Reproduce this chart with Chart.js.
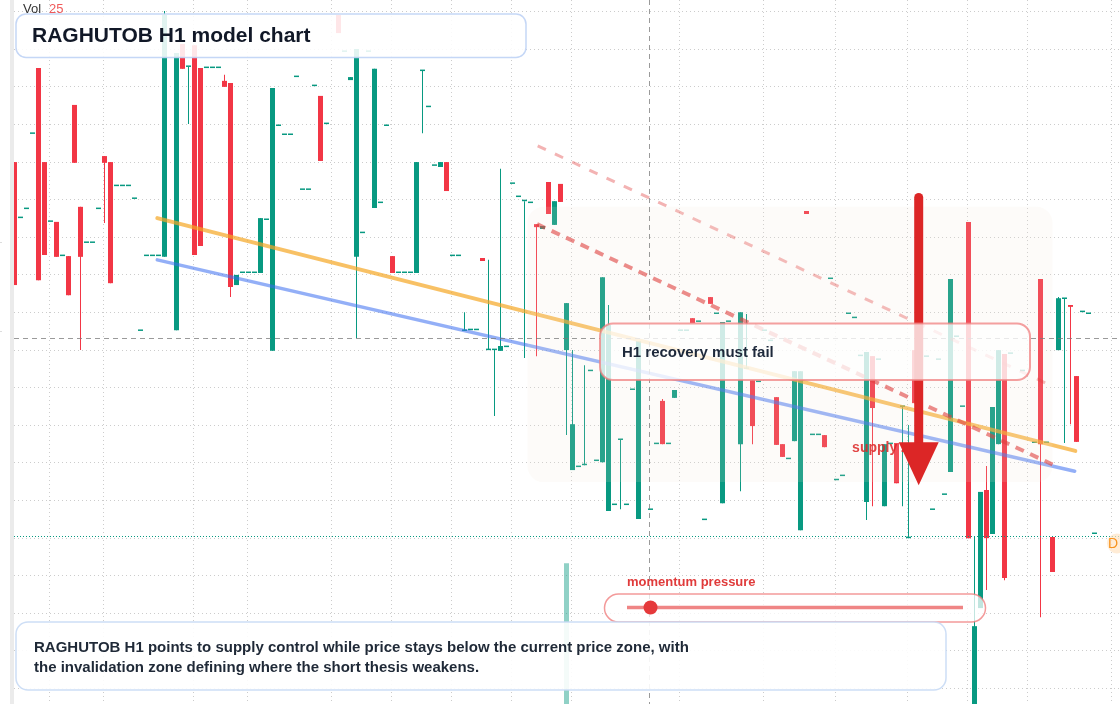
<!DOCTYPE html>
<html>
<head>
<meta charset="utf-8">
<title>RAGHUTOB H1 model chart</title>
<script src="https://cdn.jsdelivr.net/npm/chart.js@4.4.1/dist/chart.umd.min.js"></script>
<style>
  html, body { margin: 0; padding: 0; background: #ffffff; }
  #wrap { position: relative; width: 1120px; height: 704px; overflow: hidden; }
</style>
</head>
<body>
<div id="wrap"><canvas id="chart" width="1120" height="704"></canvas></div>
<script>
// H1 bar slots (one slot per hour, empty slots have no print)
const slots = [
  0, 1, 2, 3, 4, 5, 6, 7, 8, 9,
  10, 11, 12, 13, 14, 15, 16, 17, 18, 19,
  20, 21, 22, 23, 24, 25, 27, 28, 29, 30,
  31, 32, 33, 34, 35, 36, 37, 38, 39, 40,
  41, 42, 43, 44, 45, 46, 47, 48, 49, 50,
  51, 52, 54, 55, 56, 57, 58, 59, 60, 61,
  62, 63, 64, 65, 66, 67, 68, 69, 70, 71,
  72, 73, 74, 75, 76, 77, 78, 79, 80, 81,
  82, 83, 84, 85, 86, 87, 88, 89, 90, 91,
  92, 93, 94, 95, 96, 97, 98, 99, 100, 101,
  102, 103, 104, 106, 107, 108, 109, 110, 111, 112,
  113, 114, 115, 116, 117, 118, 119, 121, 122, 123,
  124, 125, 126, 127, 128, 129, 130, 131, 132, 133,
  134, 135, 136, 137, 138, 139, 140, 141, 142, 143,
  144, 145, 146, 147, 148, 149, 150, 152, 153, 154,
  155, 156, 157, 158, 159, 160, 161, 162, 163, 164,
  165, 166, 168, 170, 171, 172, 173, 174, 175, 176,
  177, 178, 179, 180
];
const opens = [
  56.00, 54.51, 54.75, 56.75, 58.50, 56.00, 54.41, 54.41, 53.50, 53.50,
  57.52, 54.81, 53.85, 53.85, 54.75, 56.16, 56.00, 55.36, 55.36, 55.36,
  55.02, 51.51, 53.50, 53.50, 53.50, 53.48, 51.53, 59.14, 58.53, 59.11,
  58.50, 58.50, 58.50, 58.50, 58.16, 58.10, 52.73, 53.05, 53.05, 53.05,
  53.05, 54.46, 50.98, 56.96, 56.72, 56.72, 58.26, 55.26, 55.26, 58.02,
  57.76, 57.01, 59.91, 58.93, 58.18, 53.48, 54.11, 58.93, 54.78, 54.91,
  56.96, 53.50, 53.05, 53.05, 53.05, 53.05, 58.42, 57.46, 55.90, 55.87,
  56.00, 53.50, 53.50, 51.51, 51.53, 51.53, 53.45, 51.00, 51.00, 50.98,
  51.08, 55.42, 55.07, 54.96, 54.91, 54.35, 54.22, 55.47, 54.33, 55.42,
  51.00, 47.81, 47.89, 47.94, 50.44, 48.05, 48.02, 46.72, 46.88, 48.61,
  46.88, 49.94, 46.51, 46.75, 48.50, 49.65, 48.50, 49.73, 51.51, 51.51,
  51.85, 51.75, 46.48, 52.41, 51.96, 46.93, 51.75, 48.50, 50.50, 50.20,
  50.15, 51.51, 51.24, 49.75, 48.50, 48.10, 48.58, 46.21, 54.70, 48.74,
  48.74, 48.74, 52.89, 47.54, 47.65, 51.96, 51.85, 50.84, 46.96, 50.84,
  50.74, 46.85, 48.50, 48.53, 49.49, 46.00, 51.00, 50.82, 46.75, 50.74,
  47.15, 47.76, 51.35, 49.49, 54.41, 41.16, 44.14, 47.28, 46.11, 48.50,
  50.90, 50.90, 50.44, 48.53, 52.89, 48.53, 46.03, 51.00, 52.36, 52.20,
  50.31, 52.01, 51.96, 46.11
];
const highs = [
  56.00, 54.51, 54.75, 56.75, 58.50, 56.00, 54.41, 54.41, 53.50, 53.50,
  57.52, 54.81, 53.85, 53.85, 54.75, 56.16, 56.00, 55.36, 55.36, 55.36,
  55.02, 51.51, 53.50, 53.50, 53.50, 60.02, 58.90, 59.14, 58.53, 59.11,
  58.50, 58.50, 58.50, 58.50, 58.32, 58.10, 53.00, 53.05, 53.05, 53.05,
  54.51, 54.46, 57.97, 56.96, 56.72, 56.72, 58.26, 55.26, 55.26, 58.02,
  57.76, 57.01, 59.91, 58.93, 58.26, 59.01, 54.11, 58.93, 58.48, 54.91,
  56.96, 53.50, 53.05, 53.05, 53.05, 56.00, 58.42, 57.46, 55.90, 56.00,
  56.00, 53.50, 53.50, 52.01, 51.53, 51.53, 53.45, 53.40, 51.00, 55.82,
  51.08, 55.42, 55.07, 54.96, 54.91, 54.35, 54.30, 55.47, 54.96, 55.42,
  52.25, 51.00, 47.89, 50.60, 50.44, 48.05, 52.94, 52.20, 46.88, 48.61,
  46.88, 49.94, 51.24, 46.75, 48.50, 49.70, 48.50, 49.94, 51.51, 51.51,
  51.85, 51.75, 46.48, 52.41, 51.96, 51.75, 51.75, 52.01, 51.96, 50.20,
  50.15, 51.51, 51.24, 49.75, 48.50, 48.10, 50.44, 50.44, 54.70, 48.74,
  48.74, 48.74, 52.89, 47.54, 47.65, 51.96, 51.85, 50.84, 50.95, 50.84,
  50.74, 48.50, 48.50, 48.53, 49.49, 49.01, 51.00, 50.82, 46.75, 50.74,
  47.15, 52.89, 51.35, 49.49, 54.41, 46.03, 47.23, 47.92, 49.49, 51.00,
  50.90, 50.90, 50.44, 48.53, 52.89, 48.53, 46.03, 52.41, 52.36, 52.20,
  50.31, 52.01, 51.96, 46.11
];
const lows = [
  52.73, 54.51, 54.75, 56.75, 52.86, 53.53, 54.41, 53.48, 53.50, 52.46,
  55.98, 51.00, 53.85, 53.85, 54.75, 54.38, 52.78, 55.36, 55.36, 55.36,
  55.02, 51.51, 53.50, 53.50, 53.50, 53.48, 51.53, 58.48, 57.01, 53.53,
  53.77, 58.50, 58.50, 58.50, 58.00, 52.41, 52.73, 53.05, 53.05, 53.05,
  53.05, 54.46, 50.98, 56.96, 56.72, 56.72, 58.26, 55.26, 55.26, 58.02,
  56.03, 57.01, 59.43, 58.93, 58.18, 51.32, 54.11, 58.93, 54.78, 54.91,
  56.96, 53.05, 53.05, 53.05, 53.05, 53.05, 56.77, 57.46, 55.90, 55.87,
  55.23, 53.50, 53.50, 51.51, 51.53, 51.53, 53.37, 51.00, 49.25, 50.98,
  51.08, 55.42, 55.07, 50.79, 54.91, 50.84, 54.22, 54.62, 54.33, 54.94,
  48.74, 47.81, 47.89, 47.94, 50.44, 48.05, 48.02, 46.72, 46.88, 46.77,
  46.88, 49.94, 46.51, 46.75, 48.50, 48.50, 48.50, 49.73, 51.51, 51.51,
  51.72, 51.75, 46.48, 52.23, 51.96, 46.93, 51.75, 47.25, 50.50, 48.50,
  50.15, 51.51, 51.24, 48.48, 48.16, 48.10, 48.58, 46.21, 54.62, 48.74,
  48.74, 48.42, 52.89, 47.54, 47.65, 51.96, 51.85, 50.84, 46.48, 46.85,
  50.74, 46.85, 48.50, 47.46, 46.85, 46.00, 49.59, 50.82, 46.75, 50.74,
  47.15, 47.76, 51.35, 49.49, 46.00, 41.16, 44.14, 44.62, 46.11, 48.50,
  44.88, 50.90, 50.44, 48.53, 43.90, 48.53, 45.10, 51.00, 48.53, 49.03,
  48.56, 52.01, 51.96, 46.11
];
const closes = [
  52.73, 54.51, 54.75, 56.75, 52.86, 53.53, 54.41, 53.48, 53.50, 52.46,
  55.98, 53.48, 53.85, 53.85, 54.75, 55.98, 52.78, 55.36, 55.36, 55.36,
  55.02, 51.51, 53.50, 53.50, 53.50, 59.91, 58.90, 58.48, 58.53, 53.53,
  53.77, 58.50, 58.50, 58.50, 58.00, 52.68, 53.00, 53.05, 53.05, 53.05,
  54.51, 54.46, 57.97, 56.96, 56.72, 56.72, 58.26, 55.26, 55.26, 58.02,
  56.03, 57.01, 59.43, 58.93, 58.26, 59.01, 54.11, 58.93, 58.48, 54.91,
  56.96, 53.05, 53.05, 53.05, 53.05, 56.00, 58.42, 57.46, 55.90, 56.00,
  55.23, 53.50, 53.50, 51.51, 51.53, 51.53, 53.37, 51.00, 51.00, 51.11,
  51.08, 55.42, 55.07, 54.96, 54.91, 54.27, 54.30, 54.62, 54.96, 54.94,
  52.25, 49.03, 47.89, 47.94, 50.44, 48.05, 52.94, 51.67, 46.88, 48.61,
  46.88, 49.94, 51.24, 46.75, 48.50, 48.50, 48.50, 49.94, 51.51, 51.51,
  51.72, 51.75, 46.48, 52.23, 51.96, 51.75, 51.75, 52.01, 50.50, 48.98,
  50.15, 51.51, 51.24, 48.48, 48.16, 48.10, 50.44, 50.44, 54.62, 48.74,
  48.74, 48.42, 52.89, 47.54, 47.65, 51.96, 51.85, 50.84, 50.95, 49.46,
  50.74, 48.50, 48.50, 47.46, 49.49, 46.00, 49.59, 50.82, 46.75, 50.74,
  47.15, 52.89, 51.35, 49.49, 46.00, 43.66, 47.23, 46.00, 49.49, 51.00,
  44.94, 50.90, 50.44, 48.53, 48.50, 48.53, 45.10, 52.38, 52.36, 52.15,
  48.56, 52.01, 51.96, 46.11
];

// volume pane (only one bar reaches into view)
const volSlots = [92];
const volumes = [20];

// drawn levels: [slot, price] pairs
const orangeTrend = [[23.8, 54.51], [176.8, 48.32]];
const blueTrend = [[23.8, 53.40], [176.7, 47.78]];
const sellChannel = [[87.1, 54.35], [173.0, 47.96]];
const upperChannel = [[87.2, 56.43], [173.0, 50.04]];

const zoneSlots = [85.5, 173.0];
const zonePrices = [47.49, 54.81];
const arrowSlot = 150.7;
const arrowPrices = [55.06, 47.41];
const crossSlot = 105.83;
const crossPrice = 51.32;
const lastPrice = 46.07;
const momentumLevel = 0.07;

// time grid positions
const gridSlots = [5.9, 14.9, 29.9, 38.9, 52.9, 62.9, 72.9, 82.9, 92.9, 110.9, 124.9, 136.9, 148.9, 158.9, 168.9, 182.9];

const UP = '#089981';
const DOWN = '#f23645';
const FONT = '"Liberation Sans", Arial, Helvetica, sans-serif';

const candleColors = slots.map((s, k) => closes[k] >= opens[k] ? UP : DOWN);

function trend(pts, color, width, dash) {
  return {
    type: 'line',
    data: pts.map(p => ({ x: p[0], y: p[1] })),
    borderColor: color,
    borderWidth: width,
    borderDash: dash,
    borderCapStyle: dash.length ? 'butt' : 'round',
    pointRadius: 0,
    fill: false,
    tension: 0,
    order: 0
  };
}

function roundRect(ctx, x, y, w, h, r) {
  ctx.beginPath();
  ctx.moveTo(x + r, y);
  ctx.arcTo(x + w, y, x + w, y + h, r);
  ctx.arcTo(x + w, y + h, x, y + h, r);
  ctx.arcTo(x, y + h, x, y, r);
  ctx.arcTo(x, y, x + w, y, r);
  ctx.closePath();
}

function box(ctx, x, y, w, h, r, fill, stroke, lw) {
  roundRect(ctx, x, y, w, h, r);
  ctx.fillStyle = fill;
  ctx.fill();
  ctx.lineWidth = lw;
  ctx.strokeStyle = stroke;
  ctx.stroke();
}

const overlay = {
  id: 'overlay',
  beforeDraw(chart) {
    const ctx = chart.ctx;
    ctx.save();
    ctx.fillStyle = '#ebebeb';
    ctx.fillRect(10, 0, 4, chart.height);
    ctx.fillStyle = '#dddddd';
    ctx.fillRect(0, Math.round(chart.scales.y.getPixelForValue(53.87)), 2, 1);
    ctx.fillRect(0, Math.round(chart.scales.y.getPixelForValue(51.51)), 2, 1);
    ctx.restore();
  },
  afterDatasetsDraw(chart) {
    const { ctx, chartArea: area } = chart;
    const x = chart.scales.x, y = chart.scales.y;
    ctx.save();

    // supply zone
    const zx0 = x.getPixelForValue(zoneSlots[0]), zx1 = x.getPixelForValue(zoneSlots[1]);
    const zy0 = y.getPixelForValue(zonePrices[1]), zy1 = y.getPixelForValue(zonePrices[0]);
    roundRect(ctx, zx0, zy0, zx1 - zx0, zy1 - zy0, 16);
    ctx.fillStyle = 'rgba(240,224,209,0.14)';
    ctx.fill();

    // last price line
    const lp = Math.round(y.getPixelForValue(lastPrice)) + 0.5;
    ctx.setLineDash([1, 2]);
    ctx.strokeStyle = UP;
    ctx.lineWidth = 1;
    ctx.beginPath(); ctx.moveTo(area.left, lp); ctx.lineTo(area.right, lp); ctx.stroke();

    // crosshair
    const cx = Math.round(x.getPixelForValue(crossSlot)) + 0.5;
    const cy = Math.round(y.getPixelForValue(crossPrice)) + 0.5;
    ctx.setLineDash([5, 4]);
    ctx.strokeStyle = 'rgba(120,120,120,0.75)';
    ctx.beginPath(); ctx.moveTo(cx, area.top); ctx.lineTo(cx, area.bottom); ctx.stroke();
    ctx.beginPath(); ctx.moveTo(area.left, cy); ctx.lineTo(area.right, cy); ctx.stroke();
    ctx.setLineDash([]);

    // supply zone label
    ctx.font = 'bold 14px ' + FONT;
    ctx.textBaseline = 'middle';
    ctx.textAlign = 'left';
    ctx.fillStyle = 'rgba(220,38,38,0.85)';
    ctx.fillText('supply zone', x.getPixelForValue(139.6), y.getPixelForValue(48.40));

    // down arrow
    const ax = x.getPixelForValue(arrowSlot);
    const aTop = y.getPixelForValue(arrowPrices[0]);
    const aTip = y.getPixelForValue(arrowPrices[1]);
    ctx.strokeStyle = '#dc2626';
    ctx.fillStyle = '#dc2626';
    ctx.lineWidth = 9;
    ctx.lineCap = 'round';
    ctx.beginPath(); ctx.moveTo(ax, aTop); ctx.lineTo(ax, aTip - 40); ctx.stroke();
    ctx.lineCap = 'butt';
    ctx.beginPath();
    ctx.moveTo(ax - 20, aTip - 43);
    ctx.lineTo(ax + 20, aTip - 43);
    ctx.lineTo(ax, aTip);
    ctx.closePath();
    ctx.fill();

    // title
    box(ctx, 16, 14, 510, 43.5, 10, 'rgba(255,255,255,0.88)', 'rgba(191,211,245,0.9)', 1.5);
    ctx.fillStyle = '#111827';
    ctx.font = 'bold 21px ' + FONT;
    ctx.fillText('RAGHUTOB H1 model chart', 32, 36);

    // recovery callout
    box(ctx, 600, 323.5, 430, 56.5, 13, 'rgba(255,255,255,0.78)', 'rgba(240,128,128,0.75)', 2);
    ctx.fillStyle = '#1e293b';
    ctx.font = 'bold 15px ' + FONT;
    ctx.fillText('H1 recovery must fail', 622, 353);

    // momentum gauge
    ctx.fillStyle = '#e03b3b';
    ctx.font = 'bold 13px ' + FONT;
    ctx.fillText('momentum pressure', 627, 582.5);
    box(ctx, 604.5, 594, 381, 28, 14, 'rgba(255,255,255,0.75)', 'rgba(239,120,120,0.75)', 1.5);
    ctx.strokeStyle = 'rgba(236,112,112,0.85)';
    ctx.lineWidth = 3.5;
    ctx.beginPath(); ctx.moveTo(627, 607.5); ctx.lineTo(963, 607.5); ctx.stroke();
    ctx.fillStyle = '#e5393b';
    ctx.beginPath(); ctx.arc(627 + (963 - 627) * momentumLevel, 607.5, 7, 0, Math.PI * 2); ctx.fill();

    // thesis note
    box(ctx, 16, 622, 930, 68, 12, 'rgba(255,255,255,0.9)', 'rgba(200,218,245,0.9)', 1.5);
    ctx.fillStyle = '#1f2937';
    ctx.font = 'bold 15px ' + FONT;
    ctx.fillText('RAGHUTOB H1 points to supply control while price stays below the current price zone, with', 34, 648);
    ctx.fillText('the invalidation zone defining where the short thesis weakens.', 34, 668);

    // volume legend
    ctx.font = '13px ' + FONT;
    ctx.fillStyle = '#333333';
    ctx.fillText('Vol', 23, 9);
    ctx.fillStyle = '#f05a5a';
    ctx.fillText('25', 49, 9);

    // price badge
    ctx.fillStyle = 'rgba(255,228,196,0.7)';
    ctx.beginPath(); ctx.arc(1117, lp + 7, 10, 0, Math.PI * 2); ctx.fill();
    ctx.fillStyle = '#f7931e';
    ctx.font = '14px ' + FONT;
    ctx.fillText('D', 1108, lp + 8);

    ctx.restore();
  }
};

const gridStyle = { color: 'rgba(0,0,0,0.2)', lineWidth: 1, drawTicks: false, offset: false };
const borderStyle = { display: false, dash: [1, 3] };

new Chart(document.getElementById('chart').getContext('2d'), {
  type: 'bar',
  data: {
    datasets: [
      {
        type: 'bar',
        label: 'Vol',
        yAxisID: 'yVol',
        data: volSlots.map((s, k) => ({ x: s, y: volumes[k] })),
        backgroundColor: 'rgba(8,153,129,0.45)',
        barThickness: 5,
        grouped: false,
        inflateAmount: 0,
        order: 5
      },
      {
        type: 'bar',
        label: 'wick',
        data: slots.map((s, k) => ({ x: s, y: [lows[k], highs[k]] })),
        backgroundColor: candleColors,
        barThickness: 1,
        grouped: false,
        inflateAmount: 0,
        order: 4
      },
      {
        type: 'bar',
        label: 'body',
        data: slots.map((s, k) => ({ x: s, y: [Math.min(opens[k], closes[k]), Math.max(opens[k], closes[k])] })),
        backgroundColor: candleColors,
        barThickness: 5,
        minBarLength: 1.5,
        grouped: false,
        inflateAmount: 0,
        order: 3
      },
      trend(upperChannel, 'rgba(220,38,38,0.35)', 3, [9, 10]),
      trend(sellChannel, 'rgba(220,38,38,0.6)', 4, [9, 7]),
      trend(blueTrend, 'rgba(59,110,240,0.55)', 3.5, []),
      trend(orangeTrend, 'rgba(245,166,35,0.7)', 4, [])
    ]
  },
  options: {
    responsive: false,
    animation: false,
    events: [],
    layout: { padding: { left: 14, right: 0, top: 0, bottom: 0 } },
    plugins: { legend: { display: false }, tooltip: { enabled: false } },
    scales: {
      x: {
        type: 'linear',
        min: -0.0833,
        max: 184.25,
        offset: false,
        ticks: { display: false },
        grid: gridStyle,
        border: borderStyle,
        afterBuildTicks: s => { s.ticks = gridSlots.map(v => ({ value: v })); },
        afterFit: s => { s.height = 0; }
      },
      y: {
        type: 'linear',
        min: 41.59,
        max: 60.31,
        ticks: { display: false, stepSize: 1, includeBounds: false },
        grid: gridStyle,
        border: borderStyle,
        afterFit: s => { s.width = 0; }
      },
      yVol: {
        type: 'linear',
        min: 0,
        max: 100,
        display: false
      }
    }
  },
  plugins: [overlay]
});
</script>
</body>
</html>
